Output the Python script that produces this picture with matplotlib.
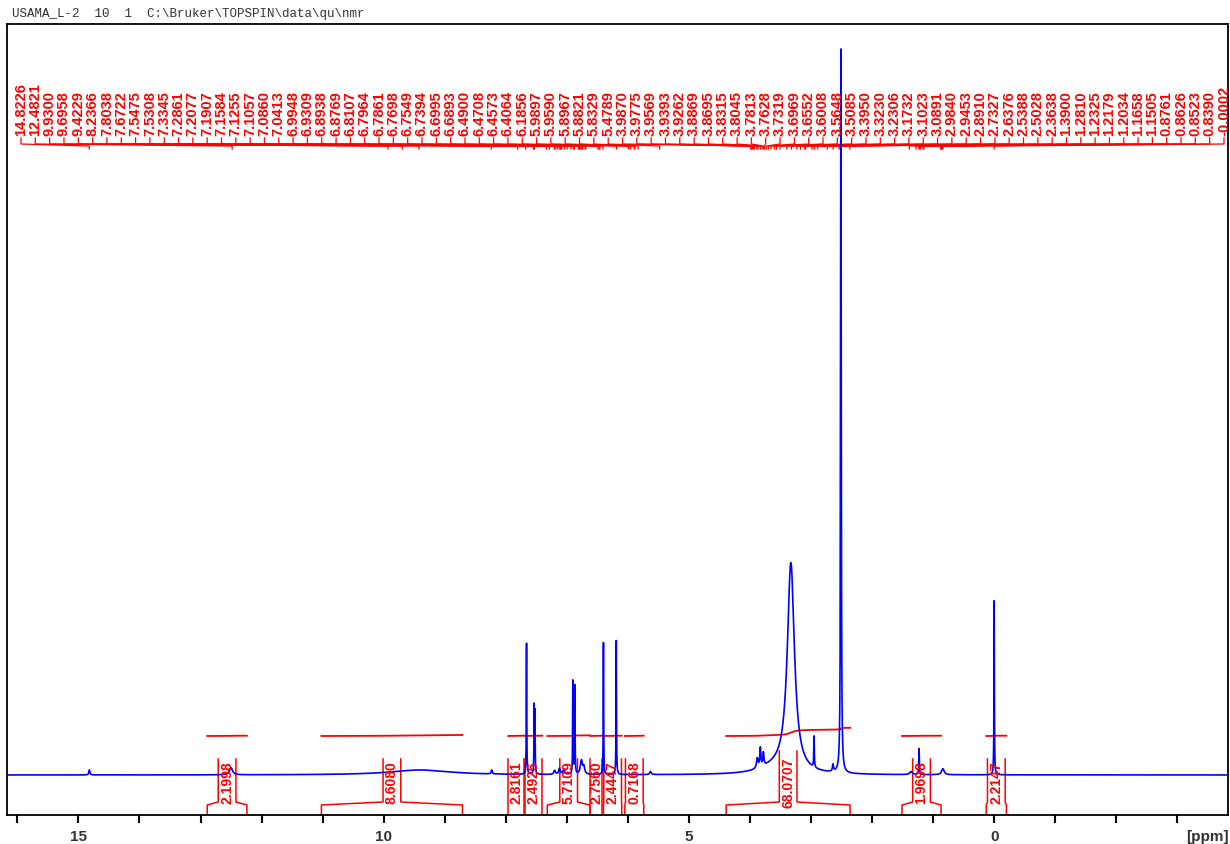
import numpy as np
import matplotlib.pyplot as plt
from matplotlib.ticker import MultipleLocator, FuncFormatter

title = "USAMA_L-2  10  1  C:\\Bruker\\TOPSPIN\\data\\qu\\nmr"

# peaks: position (ppm), height, line width (ppm)
peak_ppm = [14.82, 12.50, 9.40, 8.23, 7.66, 7.535, 7.522, 7.20, 7.12, 7.05,
            6.901, 6.868, 6.76, 6.72, 6.40, 6.19, 5.63, 3.88, 3.83, 3.78,
            3.60, 3.33, 2.95, 2.64, 2.51, 1.36, 1.23, 0.84, 0.00]
peak_height = [5, 7, 5, 4, 131, 66, 60, 4, 6, 5,
               93, 88, 14, 7, 132, 134, 3, 10, 19, 13,
               6, 209, 31, 7, 724, 3, 26, 6, 174]
peak_width = [0.02, 0.06, 1.2, 0.02, 0.008, 0.008, 0.008, 0.03, 0.03, 0.03,
              0.008, 0.008, 0.04, 0.03, 0.008, 0.008, 0.03, 0.03, 0.02, 0.02,
              0.6, 0.14, 0.01, 0.02, 0.012, 0.05, 0.01, 0.05, 0.008]

# peak picking labels
pick_labels = ["14.8226", "12.4821", "9.9300", "9.6958", "9.4229", "8.2366",
               "7.8038", "7.6722", "7.5475", "7.5308", "7.3345", "7.2861",
               "7.2077", "7.1907", "7.1584", "7.1255", "7.1057", "7.0860",
               "7.0413", "6.9948", "6.9309", "6.8938", "6.8769", "6.8107",
               "6.7964", "6.7861", "6.7698", "6.7549", "6.7394", "6.6995",
               "6.6893", "6.4900", "6.4708", "6.4573", "6.4064", "6.1856",
               "5.9897", "5.9590", "5.8967", "5.8821", "5.8329", "5.4789",
               "3.9870", "3.9775", "3.9569", "3.9393", "3.9262", "3.8869",
               "3.8695", "3.8315", "3.8045", "3.7813", "3.7628", "3.7319",
               "3.6969", "3.6552", "3.6008", "3.5648", "3.5085", "3.3950",
               "3.3230", "3.2306", "3.1732", "3.1023", "3.0891", "2.9840",
               "2.9453", "2.8910", "2.7327", "2.6376", "2.5388", "2.5028",
               "2.3638", "1.3900", "1.2810", "1.2325", "1.2179", "1.2034",
               "1.1658", "1.1505", "0.8761", "0.8626", "0.8523", "0.8390",
               "-0.0002"]

# integral regions
int_start = [12.89, 11.02, 7.96, 7.68, 7.32, 6.62, 6.40, 6.05, 4.39, 1.51, 0.13]
int_end = [12.24, 8.71, 7.70, 7.40, 6.62, 6.42, 6.10, 5.74, 2.36, 0.87, -0.20]
int_labels = ["2.1998", "8.6080", "2.8161", "2.4926", "5.7109", "2.7560",
              "2.4447", "0.7168", "68.0707", "1.9698", "2.2147"]

x_left, x_right = 16.17, -3.83
blue = "#0000ff"
red = "#ff0000"

ppm = np.round(np.arange(x_right, x_left, 0.001), 3)
spec = np.zeros_like(ppm)
for p, h, w in zip(peak_ppm, peak_height, peak_width):
    hw = w / 2
    spec += h * hw**2 / ((ppm - p)**2 + hw**2)

fig = plt.figure(figsize=(12.3, 8.45), dpi=100)
ax = fig.add_axes([7/1230, 29/845, 1221/1230, 791/845])
ax.set_xlim(x_left, x_right)
ax.set_ylim(-40, 751)

ax.plot(ppm, spec, color=blue, lw=1.2, zorder=3)

# integral curves and their labels
for s, e, lab in zip(int_start, int_end, int_labels):
    m = (ppm <= s) & (ppm >= e)
    xs = ppm[m][::-1]
    ys = spec[m][::-1]
    cum = np.concatenate([[0], np.cumsum((ys[1:] + ys[:-1]) / 2 * -np.diff(xs))])
    rise = max(float(lab) * 0.12, 0.3)
    ax.plot(xs, 39 + cum / cum[-1] * rise, color=red, lw=1.3, zorder=2)

    c = (s + e) / 2
    hb = min(0.145, (s - e) / 2)
    top = 24 if len(lab) > 6 else 16
    ax.plot([s, s, c + hb, c + hb], [-40, -30, -27, top], color=red, lw=1.1, zorder=2)
    ax.plot([e, e, c - hb, c - hb], [-40, -30, -27, top], color=red, lw=1.1, zorder=2)
    ax.text(c, -7, lab, rotation=90, ha="center", va="center", color=red,
            fontsize=10, fontweight="bold", family="Liberation Sans")

# peak picking labels along the top
fr = np.linspace(14/1221, 1217/1221, len(pick_labels))
for f, lab in zip(fr, pick_labels):
    xl = x_left + f * (x_right - x_left)
    xp = float(lab)
    ax.text(xl, 640, lab, rotation=90, ha="center", va="bottom", color=red,
            fontsize=10.5, fontweight="bold", family="Liberation Sans")
    ax.plot([xl, xl, xp, xp], [637, 631, 629, 626], color=red, lw=0.9, zorder=2)

ax.set_yticks([])
ax.xaxis.set_major_locator(MultipleLocator(1))
ax.xaxis.set_major_formatter(FuncFormatter(lambda v, pos: "%d" % round(v) if round(v) % 5 == 0 else ""))
ax.tick_params(axis="x", direction="out", length=6, width=1.5, pad=4, labelsize=11,
               colors="black", labelcolor="#333333")
for lbl in ax.get_xticklabels():
    lbl.set_fontweight("bold")
    lbl.set_family("Liberation Sans")
for sp in ax.spines.values():
    sp.set_linewidth(1.3)
    sp.set_color("black")

fig.text(1207/1230, 1 - 837/845, "[ppm]", ha="center", va="center",
         fontsize=11, fontweight="bold", family="Liberation Sans", color="#333333")
fig.text(12/1230, 1 - 14/845, title, ha="left", va="center",
         fontsize=9, family="Liberation Mono", color="#333333")

fig.savefig("out.png", dpi=100)
